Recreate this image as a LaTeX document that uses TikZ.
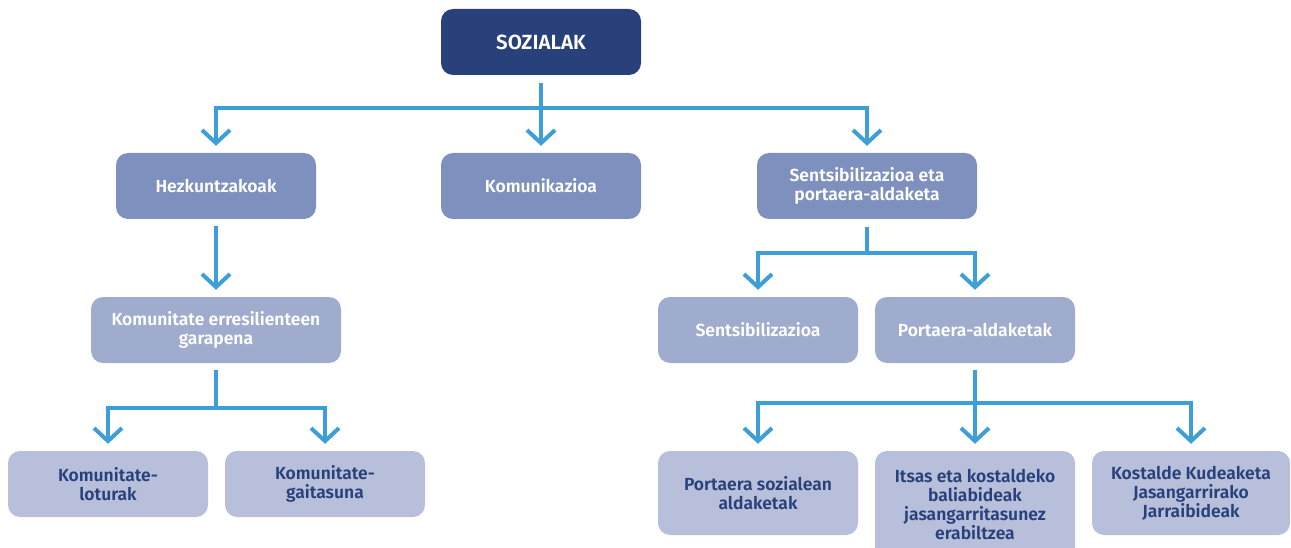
\documentclass[tikz,border=0pt]{standalone}
\usepackage{fontspec}
\setmainfont{Fira Sans}[BoldFont={Fira Sans SemiBold}]
\usetikzlibrary{arrows.meta}
\definecolor{navy}{HTML}{29417A}
\definecolor{midblue}{HTML}{7E90BD}
\definecolor{softblue}{HTML}{A0ACCE}
\definecolor{paleblue}{HTML}{B7BFDB}
\definecolor{linkblue}{HTML}{3E9ED8}
\tikzstyle{box}=[rectangle, rounded corners=12pt, minimum width=200pt, minimum height=66pt,
  inner sep=0pt, align=center, font=\bfseries\fontsize{17.5}{19}\selectfont]
\tikzstyle{top}=[box, fill=navy, text=white, font=\bfseries\fontsize{20.5}{22}\selectfont]
\tikzstyle{lvltwo}=[box, fill=midblue, text=white]
\tikzstyle{lvlthree}=[box, fill=softblue, text=white]
\tikzstyle{lvlfour}=[box, fill=paleblue, text=navy]
\tikzstyle{link}=[draw=linkblue, line width=4pt,
  -{Straight Barb[length=13pt, width=28pt, line width=4pt]}]

\begin{document}
\begin{tikzpicture}[x=1pt, y=-1pt]
    \useasboundingbox (0,0) rectangle (1291,548);

    % root
    \node[top] (soz) at (541,42) {SOZIALAK};

    % second row
    \node[lvltwo] (hez) at (216,186) {Hezkuntzakoak};
    \node[lvltwo] (kom) at (541,186) {Komunikazioa};
    \node[lvltwo, minimum width=220pt] (sen) at (867,186) {Sentsibilizazioa eta\\portaera-aldaketa};

    % third row
    \node[lvlthree, minimum width=250pt] (gar) at (216,330) {Komunitate erresilienteen\\garapena};
    \node[lvlthree] (sens) at (758,330) {Sentsibilizazioa};
    \node[lvlthree] (port) at (975,330) {Portaera-aldaketak};

    % fourth row
    \node[lvlfour] (lot) at (108,484) {Komunitate-\\loturak};
    \node[lvlfour] (gai) at (325,484) {Komunitate-\\gaitasuna};
    \node[lvlfour, minimum height=84pt] (psoz) at (758,493) {Portaera sozialean\\aldaketak};
    \node[lvlfour, minimum height=108pt] (its) at (975,505) {Itsas eta kostaldeko\\baliabideak\\jasangarritasunez\\erabiltzea};
    \node[lvlfour, minimum width=198pt, minimum height=84pt] (kos) at (1191,493) {Kostalde Kudeaketa\\Jasangarrirako\\Jarraibideak};

    % bus points
    \coordinate (bsoz) at (541,108);
    \coordinate (bgar) at (216,408);
    \coordinate (bsen) at (867,253);
    \coordinate (bport) at (975,403);

    % connectors
    \foreach \c in {hez,kom,sen}
      \draw[link] ([yshift=-8pt]soz.south) -- (bsoz) -| ([yshift=7pt]\c.north);
    \draw[link] ([yshift=-7pt]hez.south) -- ([yshift=7pt]gar.north);
    \foreach \c in {lot,gai}
      \draw[link] ([yshift=-7pt]gar.south) -- (bgar) -| ([yshift=7pt]\c.north);
    \foreach \c in {sens,port}
      \draw[link] ([yshift=-8pt]sen.south) -- (bsen) -| ([yshift=7pt]\c.north);
    \foreach \c in {psoz,its,kos}
      \draw[link] ([yshift=-7pt]port.south) -- (bport) -| ([yshift=7pt]\c.north);

\end{tikzpicture}
\end{document}
